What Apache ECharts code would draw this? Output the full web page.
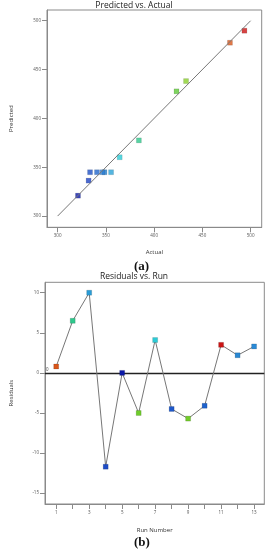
<!DOCTYPE html>
<html><head><meta charset="utf-8">
<script src="https://cdn.jsdelivr.net/npm/echarts@6/dist/echarts.min.js"></script>
<style>html,body{margin:0;padding:0;background:#fff}#c{width:268px;height:550px}</style>
</head><body><div id="c"></div>
<script>
// ---- Data: Predicted vs. Actual ----
const actual    = [493.6, 478.6, 433.1, 423.2, 384.2, 364.3, 355.4, 348.6, 346.6, 340.8, 333.6, 332.1, 321.1];
const predicted = [489.8, 477.5, 438.2, 427.7, 377.5, 360.2, 344.9, 344.9, 344.9, 344.9, 344.9, 336.3, 320.9];
const pvaColors = ['#cc1414','#d8561a','#8ad02a','#5ec838','#2ec88c','#2ccbd6','#2aa2d8','#2a86d2','#2a7ad0','#2266cc','#1e50c6','#1e44c2','#0a18a8'];
const fitX = [300, 500];
const fitY = [300, 500];
const pvaTicks = [300, 350, 400, 450, 500];

// ---- Data: Residuals vs. Run ----
const runs      = [1, 2, 3, 4, 5, 6, 7, 8, 9, 10, 11, 12, 13];
const residuals = [0.8, 6.5, 10.0, -11.7, 0.0, -5.0, 4.1, -4.5, -5.7, -4.1, 3.5, 2.2, 3.3];
const runColors = ['#d8561a','#2ec88c','#2a9cd6','#1e4cc6','#0a18a8','#6ecc2a','#2ccbd6','#1e58ca','#72cc2a','#1e62cc','#cc1414','#2a88d2','#2a8ad6'];
const runTicks  = [1,2,3,4,5,6,7,8,9,10,11,12,13];
const runLabels = [1,3,5,7,9,11,13];
const resTicks  = [-15, -10, -5, 0, 5, 10];

const chart = echarts.init(document.getElementById('c'), null, {renderer:'canvas'});
const FONT = 'Open Sans';
const axisGray = '#8a8a8a';
const tickLabel = {fontSize: 4.5, color: '#555', fontFamily: FONT, margin: 6};
function valAxis(extra){
  return Object.assign({
    type:'value', scale:true,
    axisLine:{show:true, onZero:false, lineStyle:{color:axisGray, width:1}},
    axisTick:{show:true, length:5, lineStyle:{color:axisGray}},
    splitLine:{show:false},
    nameLocation:'middle',
    nameTextStyle:{fontSize:6, color:'#333', fontFamily:FONT}
  }, extra);
}

chart.setOption({
  animation:false,
  backgroundColor:'#fff',
  title:[
    {text:'Predicted vs. Actual', left:'center', top:-4, textStyle:{fontSize:8.5, fontWeight:'normal', color:'#222', fontFamily:FONT}},
    {text:'(a)', left:129, top:255, textStyle:{fontSize:13, fontWeight:'bold', color:'#111', fontFamily:'Liberation Serif'}},
    {text:'Residuals vs. Run', left:'center', top:267.5, textStyle:{fontSize:8.5, fontWeight:'normal', color:'#222', fontFamily:FONT}},
    {text:'(b)', left:129, top:531, textStyle:{fontSize:13, fontWeight:'bold', color:'#111', fontFamily:'Liberation Serif'}}
  ],
  grid:[
    {left:45, top:10, width:216.7, height:217.3, show:true, borderColor:axisGray, borderWidth:1},
    {left:42.3, top:282.3, width:222, height:221.7, show:true, borderColor:axisGray, borderWidth:1}
  ],
  xAxis:[
    valAxis({gridIndex:0, min:289, max:511.5, name:'Actual', nameGap:22,
      axisTick:{show:true, length:5, lineStyle:{color:axisGray}, customValues:pvaTicks},
      axisLabel:Object.assign({customValues:pvaTicks}, tickLabel)}),
    valAxis({gridIndex:1, min:0.32, max:13.62, name:'Run Number', nameGap:23,
      axisTick:{show:true, length:5, lineStyle:{color:axisGray}, customValues:runTicks},
      axisLabel:Object.assign({customValues:runLabels}, tickLabel)})
  ],
  yAxis:[
    valAxis({gridIndex:0, min:288.5, max:511, name:'Predicted', nameGap:33,
      axisTick:{show:true, length:5, lineStyle:{color:axisGray}, customValues:pvaTicks},
      axisLabel:Object.assign({customValues:pvaTicks}, tickLabel)}),
    valAxis({gridIndex:1, min:-16.35, max:11.3, name:'Residuals', nameGap:31,
      axisTick:{show:true, length:5, lineStyle:{color:axisGray}, customValues:resTicks},
      axisLabel:Object.assign({customValues:resTicks}, tickLabel)})
  ],
  series:[
    {type:'line', xAxisIndex:0, yAxisIndex:0, showSymbol:false, silent:true,
      data: fitX.map((x,i)=>[x, fitY[i]]),
      lineStyle:{color:'#777', width:1}},
    {type:'scatter', xAxisIndex:0, yAxisIndex:0, symbol:'rect', symbolSize:5,
      data: actual.map((a,i)=>({value:[a, predicted[i]], itemStyle:{color:pvaColors[i], borderColor:'rgba(0,0,0,0.25)', borderWidth:0.5}}))},
    {type:'line', xAxisIndex:1, yAxisIndex:1, symbol:'rect', symbolSize:5, showAllSymbol:true,
      lineStyle:{color:'#777', width:1},
      data: runs.map((r,i)=>({value:[r, residuals[i]], itemStyle:{color:runColors[i], borderColor:'rgba(0,0,0,0.25)', borderWidth:0.5}})),
      markLine:{silent:true, symbol:'none', z:1,
        lineStyle:{color:'#222', width:1.3, type:'solid'},
        label:{show:true, position:'insideStartTop', formatter:'0', fontSize:4.5, color:'#555', distance:[1,1]},
        data:[{yAxis:0}]}
    }
  ]
});
</script></body></html>
